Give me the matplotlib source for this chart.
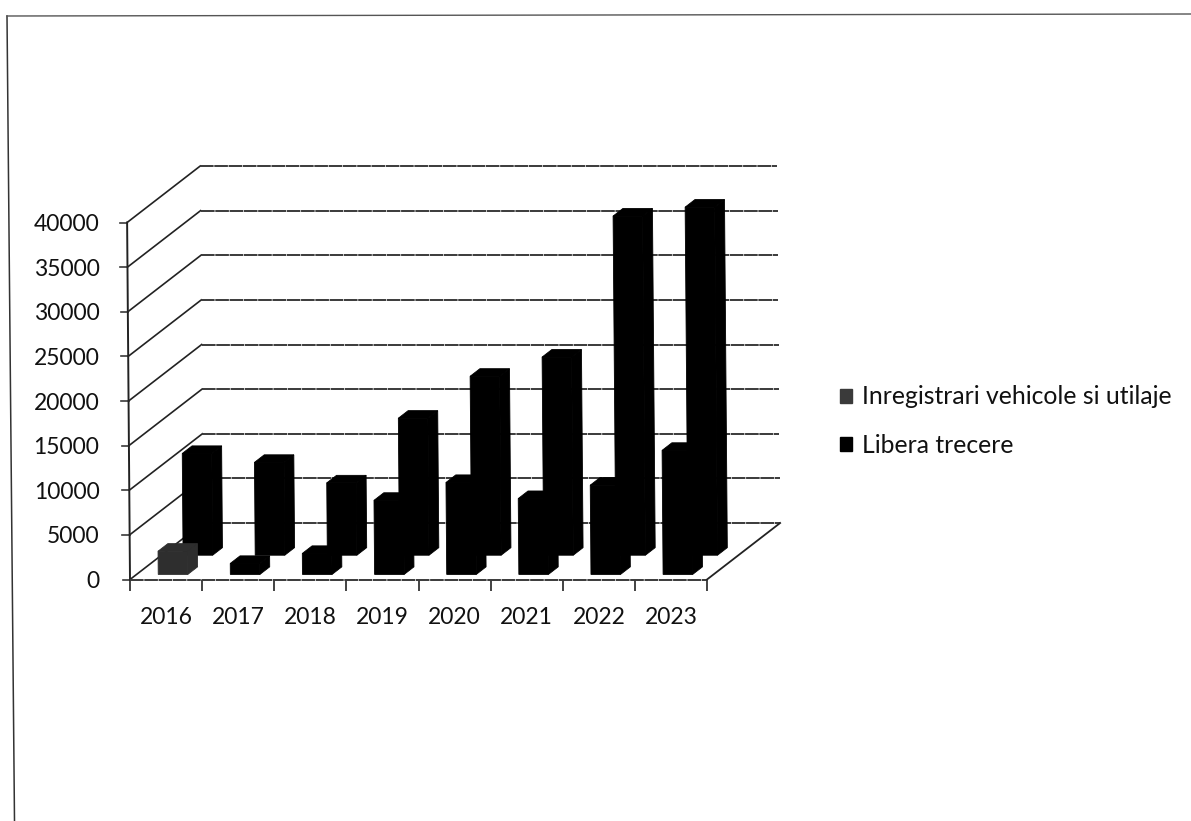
import matplotlib
matplotlib.use('Agg')
import matplotlib.pyplot as plt
from matplotlib.lines import Line2D
from matplotlib.patches import Patch, Polygon

plt.rcParams['font.family'] = ['Lato', 'DejaVu Sans']

years = ['2016', '2017', '2018', '2019', '2020', '2021', '2022', '2023']
inregistrari = [2600, 1230, 2350, 8300, 10300, 8500, 10000, 13900]
libera_trecere = [11400, 10400, 8100, 15350, 20050, 22200, 38000, 39000]
value_ticks = [0, 5000, 10000, 15000, 20000, 25000, 30000, 35000, 40000]

W, H = 1191, 821
# oblique 3D look, depth 0 = front of the floor, depth 1 = back wall
DEPTH_X = 1.02
DEPTH_Y = 6330
SKEW = 0.04  # the scan is slightly rotated
BAR_LEFT = 0.30
BAR_WIDTH = 0.41
BAR_DEPTH = 0.134
GRID = '#3a3a3a'
GRID_DASH = (0, (7, 0.35))


def project(cat, depth, value):
    y = value + depth * DEPTH_Y
    x = cat + depth * DEPTH_X - SKEW * y / 40000
    return x, y


def draw_bar(ax, cat, front, value, color, zorder):
    x0 = cat + BAR_LEFT
    x1 = x0 + BAR_WIDTH
    back = front + BAR_DEPTH
    faces = [
        [(x0, front, 0), (x1, front, 0), (x1, front, value), (x0, front, value)],
        [(x0, front, value), (x1, front, value), (x1, back, value), (x0, back, value)],
        [(x1, front, 0), (x1, back, 0), (x1, back, value), (x1, front, value)],
    ]
    for face in faces:
        ax.add_patch(Polygon([project(*p) for p in face], closed=True, facecolor=color,
                             edgecolor=color, linewidth=0.6, zorder=zorder, clip_on=False))


fig = plt.figure(figsize=(W / 100, H / 100), dpi=100)
ax = fig.add_axes([130 / W, (H - 579.5) / H, 577 / W, 357 / H])
ax.set_xlim(0, len(years))
ax.set_ylim(0, 40000)
ax.patch.set_alpha(0)
for spine in ax.spines.values():
    spine.set_visible(False)

ax.set_yticks(value_ticks)
ax.set_xticks(range(len(years) + 1))
ax.set_xticklabels([])
ax.set_xticks([i + 0.5 for i in range(len(years))], minor=True)
ax.set_xticklabels(years, minor=True)
ax.tick_params(axis='y', length=0, pad=22, labelsize=16.5, labelcolor='#111111')
ax.tick_params(axis='x', which='major', length=8, width=1.2, color='#222222')
ax.tick_params(axis='x', which='minor', length=0, pad=20, labelsize=16.5, labelcolor='#111111')

# walls and floor
n = len(years)
for v in value_ticks:
    ax.plot(*zip(project(0, 0, v), project(0, 1, v)), color='#222222', lw=1.2, zorder=1, clip_on=False)
    ax.plot(*zip(project(0, 1, v), project(n, 1, v)), color=GRID, lw=1.4,
            linestyle=GRID_DASH, zorder=1, clip_on=False)
    ax.plot(*zip(project(-0.1, 0, v), project(0, 0, v)), color=GRID, lw=1.2, zorder=1, clip_on=False)
ax.plot(*zip(project(0, 0, 0), project(0, 0, 40000)), color='#222222', lw=1.4, zorder=2, clip_on=False)
ax.plot(*zip(project(0, 0, 0), project(n, 0, 0)), color=GRID, lw=1.4,
        linestyle=GRID_DASH, zorder=2, clip_on=False)
ax.plot(*zip(project(n, 0, 0), project(n, 1, 0)), color='#222222', lw=1.3, zorder=2, clip_on=False)

# back row first so the front row sits on top
for i, value in enumerate(libera_trecere):
    draw_bar(ax, i, 0.43, value, 'black', 3)
for i, value in enumerate(inregistrari):
    # only the first bar shows the grey speckle of the scan
    draw_bar(ax, i, 0.09, value, '#2e2e2e' if i == 0 else 'black', 4)

handles = [Patch(facecolor='#3a3a3a', edgecolor='#3a3a3a', label='Inregistrari vehicole si utilaje'),
           Patch(facecolor='black', edgecolor='black', label='Libera trecere')]
fig.legend(handles=handles, loc='center left', bbox_to_anchor=(840 / W, 1 - 421 / H),
           frameon=False, fontsize=17.8, handlelength=0.5, handleheight=0.5,
           handletextpad=0.38, labelspacing=1.02, borderaxespad=0, borderpad=0,
           labelcolor='#111111')

# edge of the scanned page
fig.add_artist(Line2D([14.5 / W, 7 / W], [0, 1 - 16 / H], color='#333333', lw=1.1))
fig.add_artist(Line2D([7 / W, 1], [1 - 16 / H, 1 - 14 / H], color='#555555', lw=1.0))

fig.savefig('out.png', dpi=100)
